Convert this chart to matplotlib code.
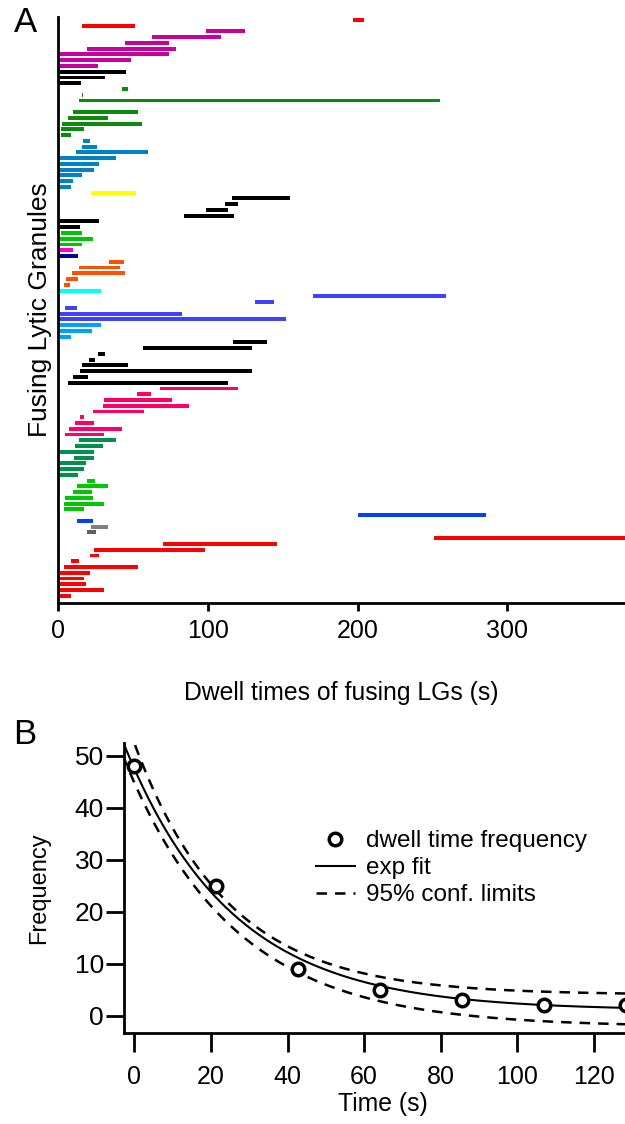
import numpy as np
import matplotlib
matplotlib.use("Agg")
from matplotlib import pyplot as plt

plt.rcParams['font.family'] = ['Liberation Sans', 'DejaVu Sans']

# ---- panel A: dwell time of each fusing granule (s) ----
granule = [0, 1, 2, 3, 4, 5, 6, 7, 8, 9, 10, 11, 12, 13, 14,
           16, 17, 18, 19, 20, 21, 22, 23, 24, 25, 26, 27, 28, 29, 30,
           31, 32, 33, 34, 35, 36, 37, 38, 39, 40, 41, 42, 43, 44, 45,
           46, 47, 48, 49, 50, 51, 52, 53, 54, 55, 56, 57, 58, 59, 60,
           61, 62, 63, 64, 65, 66, 67, 68, 69, 70, 71, 72, 73, 74, 75,
           76, 77, 78, 79, 80, 81, 82, 83, 84, 85, 86, 87, 88, 89, 90,
           91, 92, 93, 94, 95, 96, 97, 98, 99, 100]
t_start = [197, 16, 99, 62.5, 45, 19.5, 0, 0, 0, 0, 0, 0, 43, 15.8, 14,
           9.8, 6.9, 2.7, 2.2, 2.2, 16.7, 16, 11.8, 0, 0, 0, 0, 0, 0, 21.8,
           116.4, 111.6, 99, 84, 0, 0, 1.8, 0, 0, 0, 0, 34.2, 13.8, 9.1, 5.1,
           4.2, 0, 170.2, 131.3, 4.7, 0.9, 0, 0.9, 0.9, 0.9, 117, 57, 26.7, 20.9, 15.8,
           14.7, 10.2, 6.7, 68.4, 52.7, 30.7, 30, 23.6, 14.7, 11.3, 7.3, 4.4, 14.2, 11.3, 0.9,
           10.9, 0.9, 0.9, 0.9, 19.3, 12.4, 9.8, 4.7, 4.2, 4.2, 200, 12.9, 21.8, 19.1, 250.9,
           69.8, 23.8, 21.6, 8.4, 3.8, 1.3, 0, 0, 0, 0]
t_end = [204.5, 51.3, 125, 109, 74, 79, 73.8, 48.7, 27, 45.3, 31.5, 15.5, 46.4, 16.6, 254.7,
         53.1, 33.1, 56.2, 17.1, 8.9, 21.1, 26.2, 59.8, 38.4, 27.1, 23.8, 16, 10.2, 8.4, 51.8,
         154.7, 120.4, 113.3, 117.3, 27.1, 14.7, 15.8, 23.1, 15.8, 10.2, 13.6, 44.2, 41.6, 44.7, 13.3,
         7.8, 29, 259.1, 144, 12.7, 82.9, 152, 28.9, 22.7, 8.9, 139.8, 129.6, 31.1, 24.9, 46.4,
         129.6, 19.8, 113.6, 120, 62.4, 76, 87.6, 57.6, 17.3, 23.8, 42.7, 30.4, 38.7, 29.8, 23.8,
         23.8, 18.9, 17.1, 13.1, 24.9, 33.6, 22.9, 23.6, 30.4, 17.1, 285.8, 23.1, 33.6, 25.1, 390,
         146.5, 98, 27.3, 14, 53.1, 21.6, 17.1, 18.5, 30.4, 8.9]
cell = ['red', 'red', 'mag', 'mag', 'mag', 'mag', 'mag', 'mag', 'mag', 'blk', 'blk', 'blk', 'grn', 'grn', 'grn',
        'grn', 'grn', 'grn', 'grn', 'grn', 'stl', 'stl', 'stl', 'stl', 'stl', 'stl', 'stl', 'stl', 'stl', 'yel',
        'blk', 'blk', 'blk', 'blk', 'blk', 'blk', 'lgr', 'lgr', 'lgr', 'pnk', 'nav', 'org', 'org', 'org', 'org',
        'org', 'cyn', 'vio', 'vio', 'vio', 'vio', 'vio', 'sky', 'sky', 'sky', 'blk', 'blk', 'blk', 'blk', 'blk',
        'blk', 'blk', 'blk', 'ros', 'ros', 'ros', 'ros', 'ros', 'ros', 'ros', 'ros', 'ros', 'dgr', 'dgr', 'dgr',
        'dgr', 'dgr', 'dgr', 'dgr', 'lgr', 'lgr', 'lgr', 'lgr', 'lgr', 'lgr', 'blu', 'blu', 'gry', 'dgy', 'red',
        'red', 'red', 'red', 'red', 'red', 'red', 'red', 'red', 'red', 'red']

palette = {'red': '#ff0000', 'mag': '#c8009c', 'blk': '#000000', 'grn': '#0a8c0a',
           'stl': '#0082c8', 'yel': '#ffff00', 'lgr': '#00c800', 'pnk': '#ff00d2',
           'nav': '#0000a0', 'org': '#ff5000', 'cyn': '#00ffff', 'vio': '#4040ff',
           'sky': '#00a0ff', 'ros': '#ff0064', 'dgr': '#00914b', 'blu': '#0040ff',
           'gry': '#808080', 'dgy': '#606060'}

# ---- panel B: histogram of dwell times with exponential fit ----
bin_time = [0, 21.4, 42.8, 64.2, 85.6, 107, 128.4]
freq = [48, 25, 9, 5, 3, 2, 2]
# fitted y = A*exp(-t/tau) + y0, and the 95% band
fit_params = (46.5, 28.0, 1.0)
upper_params = (48.4, 24.3, 4.0)
lower_params = (47.0, 28.5, -2.2)

LABELSIZE = 17.8
TICKSIZE = 18
LEGENDSIZE = 17.5
LW = 2

fig = plt.figure(figsize=(6.25, 11.24), dpi=100)

# panel A
axA = fig.add_axes([58/625, 1 - 602.7/1124, 1 - 58/625, (602.7 - 17)/1124])
axA.barh(granule, np.array(t_end) - np.array(t_start), left=t_start, height=0.68,
         color=[palette[c] for c in cell], linewidth=0)
axA.set_xlim(0, 378.5)
axA.set_ylim(101.2, -0.5)
axA.set_yticks([])
axA.set_xticks([0, 100, 200, 300])
axA.tick_params(axis='x', direction='out', length=6, width=LW, pad=5.5, labelsize=TICKSIZE)
for s in ['top', 'right']:
    axA.spines[s].set_visible(False)
for s in ['left', 'bottom']:
    axA.spines[s].set_linewidth(LW)
axA.set_xlabel("Dwell times of fusing LGs (s)", fontsize=LABELSIZE)
axA.xaxis.set_label_coords(0.5, -0.1335)
axA.set_ylabel("Fusing Lytic Granules", fontsize=19)
axA.yaxis.set_label_coords(-0.010, 0.5)
fig.text(25/625, 1 - 22/1124, "A", fontsize=25, ha='center', va='center')

# panel B
axB = fig.add_axes([124/625, 1 - 1032.7/1124, 1 - 124/625, (1032.7 - 742.7)/1124])
tt = np.linspace(-3, 130, 300)
def expdecay(t, p):
    return p[0] * np.exp(-t / p[1]) + p[2]
axB.plot(tt, expdecay(tt, fit_params), color='black', lw=1.5, label='exp fit')
axB.plot(tt, expdecay(tt, upper_params), color='black', lw=1.8, dashes=(4.2, 3.2),
         label='95% conf. limits')
axB.plot(tt, expdecay(tt, lower_params), color='black', lw=1.8, dashes=(4.2, 3.2))
axB.plot(bin_time, freq, 'o', mfc='white', mec='black', mew=2.5, ms=9,
         label='dwell time frequency', clip_on=False, zorder=5)
axB.set_xlim(-2.7, 128.1)
axB.set_ylim(-3.3, 52.5)
axB.set_xticks([0, 20, 40, 60, 80, 100, 120])
axB.set_yticks([0, 10, 20, 30, 40, 50])
axB.tick_params(axis='x', direction='out', length=13.5, width=LW, pad=10, labelsize=TICKSIZE)
axB.tick_params(axis='y', direction='out', length=13, width=LW, pad=1.5, labelsize=TICKSIZE + 1)
for s in ['top', 'right']:
    axB.spines[s].set_visible(False)
for s in ['left', 'bottom']:
    axB.spines[s].set_linewidth(LW)
axB.set_xlabel("Time (s)", fontsize=LABELSIZE)
axB.xaxis.set_label_coords(0.517, -0.2028)
axB.set_ylabel("Frequency", fontsize=17)
axB.yaxis.set_label_coords(-0.147, 0.5)
h, l = axB.get_legend_handles_labels()
axB.legend([h[2], h[0], h[1]], [l[2], l[0], l[1]], loc='upper left',
           bbox_to_anchor=(0.383, 0.698), frameon=False, fontsize=LEGENDSIZE,
           handlelength=1.6, handletextpad=0.45, labelspacing=0.2,
           borderaxespad=0, borderpad=0)
fig.text(25/625, 1 - 735/1124, "B", fontsize=25, ha='center', va='center')

fig.savefig("out.png", dpi=100)
